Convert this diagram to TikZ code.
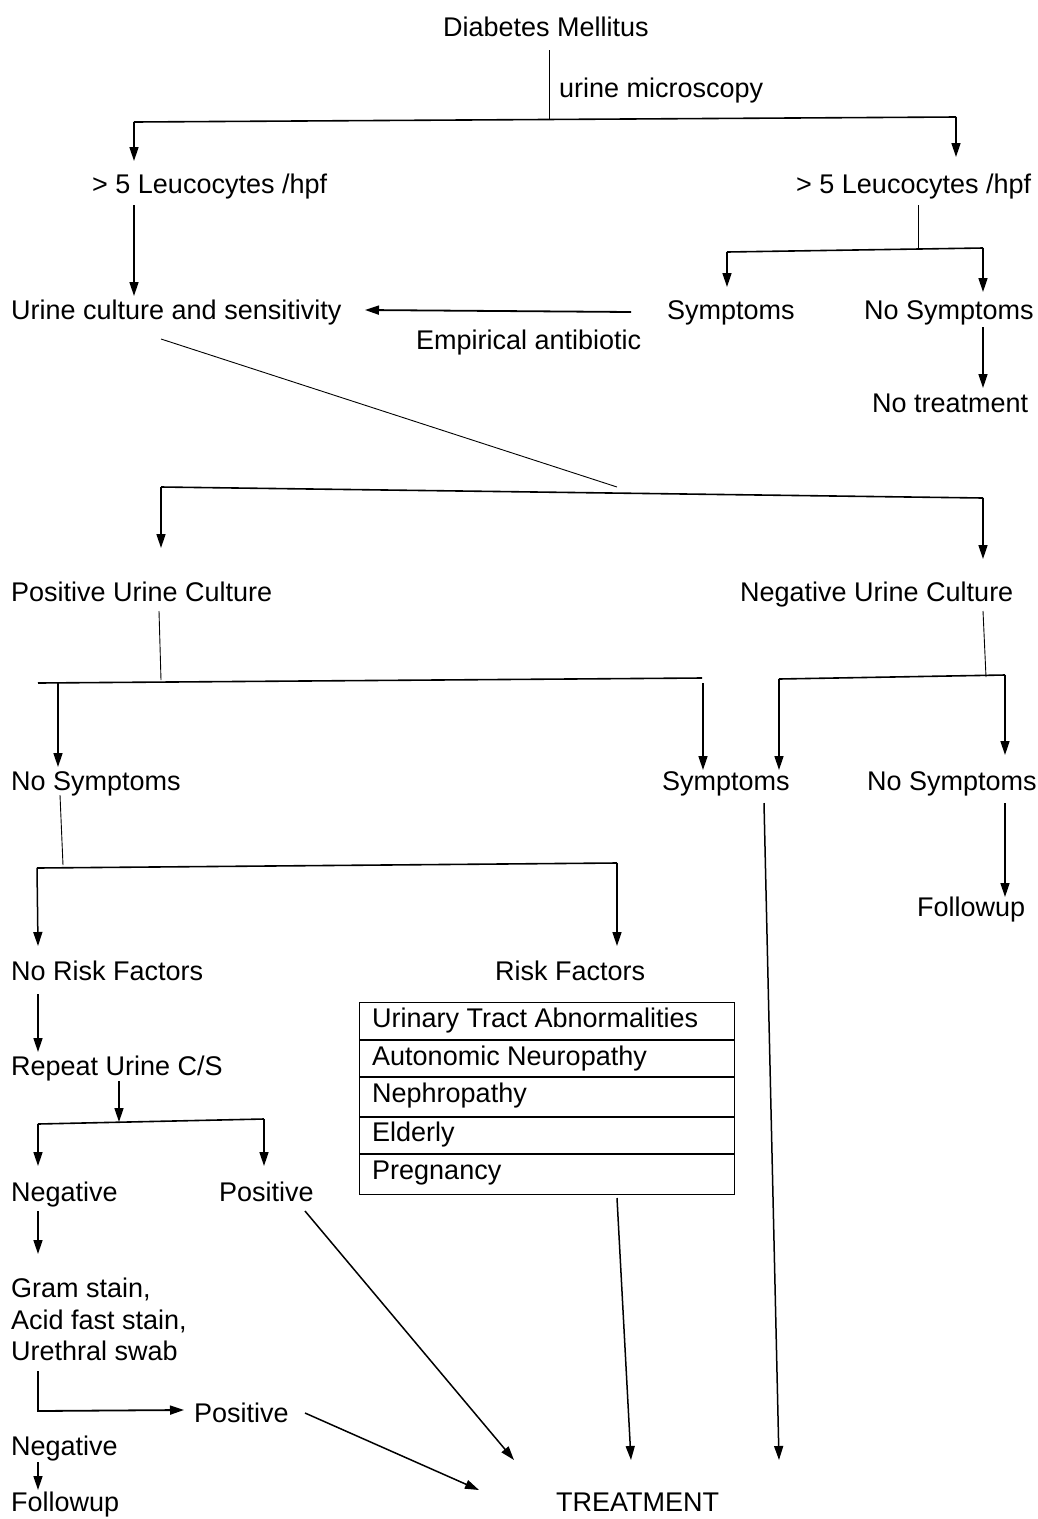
\documentclass[tikz,border=0pt]{standalone}
\usepackage{fontspec}
\setmainfont{Liberation Sans}
\usetikzlibrary{arrows.meta}
\begin{document}
\begin{tikzpicture}[x=1pt,y=-1pt,
  txt/.style={anchor=west, inner sep=0pt, font=\fontsize{27}{32}\selectfont, text height=19.3pt, text depth=0pt},
  arr/.style={line width=1.5pt, -{Triangle[length=14pt,width=9pt]}},
  thinln/.style={line width=0.9pt},
  bar/.style={line width=1.6pt},
  cell/.style={line width=1.1pt}]
\useasboundingbox (0,0) rectangle (1038,1519);
\fill[white] (0,0) rectangle (1038,1519);

% ---------- text nodes ----------
\node[txt] (dm)   at (443,27)  {Diabetes Mellitus};
\node[txt] (um)   at (559,88)  {urine microscopy};
\node[txt] (leuL) at (92,184)  {> 5 Leucocytes /hpf};
\node[txt] (leuR) at (796,184) {> 5 Leucocytes /hpf};
\node[txt] (ucs)  at (11,310)  {Urine culture and sensitivity};
\node[txt] (symA) at (667,310) {Symptoms};
\node[txt] (nosA) at (864,310) {No Symptoms};
\node[txt] (emp)  at (416,340) {Empirical antibiotic};
\node[txt] (notr) at (872,403) {No treatment};
\node[txt] (puc)  at (11,592)  {Positive Urine Culture};
\node[txt] (nuc)  at (740,592) {Negative Urine Culture};
\node[txt] (nosB) at (11,781)  {No Symptoms};
\node[txt] (symB) at (662,781) {Symptoms};
\node[txt] (nosC) at (867,781) {No Symptoms};
\node[txt] (fuA)  at (917,907) {Followup};
\node[txt] (nrf)  at (11,971)  {No Risk Factors};
\node[txt] (rf)   at (495,971) {Risk Factors};
\node[txt] (rucs) at (11,1066) {Repeat Urine C/S};
\node[txt] (negA) at (11,1192) {Negative};
\node[txt] (posA) at (219,1192) {Positive};
\node[txt] (gram1) at (11,1288) {Gram stain,};
\node[txt] (gram2) at (11,1320) {Acid fast stain,};
\node[txt] (gram3) at (11,1351) {Urethral swab};
\node[txt] (posB) at (194,1413) {Positive};
\node[txt] (negB) at (11,1446) {Negative};
\node[txt] (fuB)  at (11,1502) {Followup};
\node[txt] (trt)  at (556,1502) {TREATMENT};

% ---------- risk factor table ----------
\node[draw, cell, anchor=north west, inner sep=0pt, minimum width=375pt, minimum height=192pt] (tbl) at (359,1002) {};
\draw[cell] (359,1040) -- (734,1040);
\draw[cell] (359,1077) -- (734,1077);
\draw[cell] (359,1117) -- (734,1117);
\draw[cell] (359,1154) -- (734,1154);
\node[txt] (r1) at (372,1018) {Urinary Tract Abnormalities};
\node[txt] (r2) at (372,1056) {Autonomic Neuropathy};
\node[txt] (r3) at (372,1093) {Nephropathy};
\node[txt] (r4) at (372,1132) {Elderly};
\node[txt] (r5) at (372,1170) {Pregnancy};

% ---------- junction coordinates ----------
\coordinate (a0) at (549,50);   \coordinate (a1) at (549,120);
\coordinate (a2) at (134,122);  \coordinate (a3) at (956,117);
\coordinate (a4) at (134,161);  \coordinate (a5) at (956,157);
\coordinate (b0) at (134,205);  \coordinate (b1) at (134,296);
\coordinate (c0) at (918,205);  \coordinate (c1) at (918,250);
\coordinate (c2) at (727,252);  \coordinate (c3) at (983,248);
\coordinate (c4) at (727,287);  \coordinate (c5) at (983,292);
\coordinate (d0) at (631,312);  \coordinate (d1) at (365,310);
\coordinate (e0) at (983,327);  \coordinate (e1) at (983,388);
\coordinate (f0) at (161,339);  \coordinate (f1) at (617,487);
\coordinate (g0) at (161,487);  \coordinate (g1) at (983,498);
\coordinate (g2) at (161,548);  \coordinate (g3) at (983,559);
\coordinate (h0) at (159,611);  \coordinate (h1) at (161,680);
\coordinate (h2) at (38,683);   \coordinate (h3) at (702,678);
\coordinate (h4) at (58,683);   \coordinate (h5) at (58,767);
\coordinate (h6) at (703,683);  \coordinate (h7) at (703,770);
\coordinate (i0) at (983,611);  \coordinate (i1) at (986,677);
\coordinate (i2) at (779,679);  \coordinate (i3) at (1005,675);
\coordinate (i4) at (779,770);  \coordinate (i5) at (1005,755);
\coordinate (j0) at (60,795);   \coordinate (j1) at (63,865);
\coordinate (j2) at (37,868);   \coordinate (j3) at (617,863);
\coordinate (j4) at (38,946);   \coordinate (j5) at (617,946);
\coordinate (k0) at (764,803);  \coordinate (k1) at (779,1460);
\coordinate (l0) at (1005,803); \coordinate (l1) at (1005,897);
\coordinate (m0) at (38,994);   \coordinate (m1) at (38,1052);
\coordinate (n0) at (119,1081); \coordinate (n1) at (119,1122);
\coordinate (n2) at (38,1124);  \coordinate (n3) at (264,1119);
\coordinate (n4) at (38,1166);  \coordinate (n5) at (264,1166);
\coordinate (o0) at (38,1211);  \coordinate (o1) at (38,1254);
\coordinate (p0) at (305,1211); \coordinate (p1) at (514,1460);
\coordinate (q0) at (617,1198); \coordinate (q1) at (631,1460);
\coordinate (s0) at (38,1371);  \coordinate (s1) at (38,1411); \coordinate (s2) at (184,1410);
\coordinate (t0) at (38,1462);  \coordinate (t1) at (38,1490);
\coordinate (u0) at (305,1413); \coordinate (u1) at (479,1490);

% ---------- connectors ----------
\draw[thinln] (a0) -- (a1);
\draw[bar] (a2) -- (a3);
\draw[arr] (a2) -- (a4);
\draw[arr] (a3) -- (a5);
\draw[arr] (b0) -- (b1);
\draw[thinln] (c0) -- (c1);
\draw[bar] (c2) -- (c3);
\draw[arr] (c2) -- (c4);
\draw[arr] (c3) -- (c5);
\draw[arr, line width=1.8pt] (d0) -- (d1);
\draw[arr] (e0) -- (e1);
\draw[thinln] (f0) -- (f1);
\draw[bar] (g0) -- (g1);
\draw[arr] (g0) -- (g2);
\draw[arr] (g1) -- (g3);
\draw[thinln] (h0) -- (h1);
\draw[bar] (h2) -- (h3);
\draw[arr] (h4) -- (h5);
\draw[arr] (h6) -- (h7);
\draw[thinln] (i0) -- (i1);
\draw[bar] (i2) -- (i3);
\draw[arr] (i2) -- (i4);
\draw[arr] (i3) -- (i5);
\draw[thinln] (j0) -- (j1);
\draw[bar] (j2) -- (j3);
\draw[arr] (j2) -- (j4);
\draw[arr] (j3) -- (j5);
\draw[arr] (k0) -- (k1);
\draw[arr] (l0) -- (l1);
\draw[arr] (m0) -- (m1);
\draw[arr] (n0) -- (n1);
\draw[bar] (n2) -- (n3);
\draw[arr] (n2) -- (n4);
\draw[arr] (n3) -- (n5);
\draw[arr] (o0) -- (o1);
\draw[arr] (p0) -- (p1);
\draw[arr] (q0) -- (q1);
\draw[arr, line width=1.8pt] (s0) -- (s1) -- (s2);
\draw[arr] (t0) -- (t1);
\draw[arr] (u0) -- (u1);
\end{tikzpicture}
\end{document}
